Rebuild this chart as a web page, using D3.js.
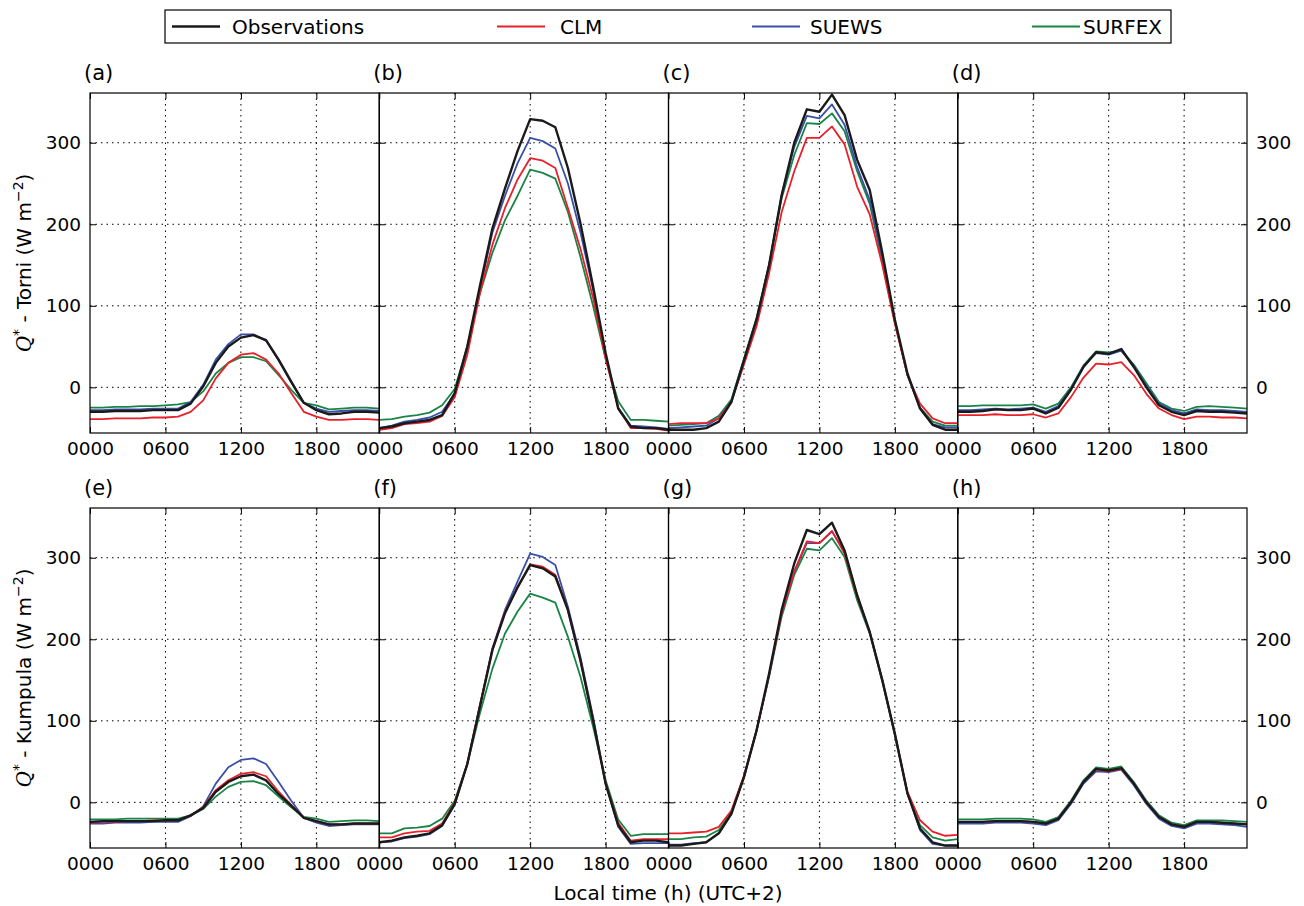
<!DOCTYPE html>
<html><head><meta charset="utf-8">
<script src="https://cdn.jsdelivr.net/npm/d3@7"></script>
<style>body{margin:0;background:#fff}text{font-family:"DejaVu Sans",sans-serif}</style>
</head><body><svg id="c" width="1304" height="906"></svg>
<script>
const hours = d3.range(24);
const seriesNames = ["Observations","CLM","SUEWS","SURFEX"];
const seriesColors = ["#1a1a1a","#e8202a","#3a4fa8","#1a8446"];
const panelLabels = ["(a)","(b)","(c)","(d)","(e)","(f)","(g)","(h)"];
const rowTitles = ["Torni","Kumpula"];
const xTicks = [0,6,12,18];
const xTickLabels = ["0000","0600","1200","1800"];
const yTicks = [0,100,200,300];

const pA_obs = [-30,-30,-29,-29,-29,-28,-28,-28,-20,1,30,50,61,64,58,34,7,-19,-28,-33,-32,-30,-30,-31];
const pA_clm = [-39,-39,-38,-38,-38,-37,-37,-36,-30,-16,11,30,40,42,34,17,-7,-30,-36,-40,-40,-39,-39,-40];
const pA_sue = [-28,-28,-27,-27,-27,-26,-26,-26,-18,3,34,53,65,65,57,33,6,-19,-26,-30,-29,-28,-28,-29];
const pA_srf = [-25,-25,-24,-24,-23,-23,-22,-21,-18,-5,17,30,37,37,32,15,-3,-19,-22,-27,-26,-25,-25,-26];
const pB_obs = [-50,-48,-44,-42,-40,-34,-7,50,124,195,244,290,329,327,319,269,201,124,42,-26,-48,-50,-50,-52];
const pB_clm = [-52,-50,-45,-44,-42,-35,-12,40,115,175,220,255,281,278,269,220,170,110,35,-25,-50,-50,-51,-53];
const pB_sue = [-50,-47,-42,-40,-37,-30,-8,48,120,190,235,275,306,302,293,250,190,120,38,-25,-47,-48,-49,-51];
const pB_srf = [-40,-39,-36,-34,-31,-22,-2,50,115,165,205,235,267,263,256,215,160,100,35,-17,-40,-40,-41,-42];
const pC_obs = [-52,-52,-52,-50,-42,-18,33,83,150,236,300,341,338,359,334,279,242,165,83,17,-26,-46,-52,-52];
const pC_clm = [-45,-44,-44,-44,-38,-18,28,75,140,215,265,306,306,320,298,246,212,150,78,15,-20,-38,-44,-44];
const pC_sue = [-50,-49,-48,-47,-38,-17,33,83,150,236,295,333,330,347,322,270,230,160,80,15,-25,-45,-49,-49];
const pC_srf = [-47,-46,-45,-44,-35,-15,35,85,150,232,285,324,323,336,314,265,225,155,80,15,-25,-42,-47,-47];
const pD_obs = [-30,-30,-29,-27,-28,-28,-26,-32,-25,-3,25,43,41,47,25,0,-22,-30,-34,-29,-30,-30,-31,-32];
const pD_clm = [-34,-34,-34,-33,-34,-34,-33,-37,-32,-12,12,29,28,31,15,-8,-26,-34,-39,-36,-36,-37,-37,-38];
const pD_sue = [-28,-28,-27,-26,-27,-26,-25,-30,-23,-2,26,42,40,45,26,2,-20,-28,-32,-27,-28,-28,-29,-30];
const pD_srf = [-23,-23,-22,-22,-22,-22,-21,-26,-20,0,27,44,43,45,28,5,-18,-26,-29,-24,-23,-24,-25,-26];
const pE_obs = [-24,-23,-23,-23,-23,-23,-22,-22,-16,-7,13,25,32,34,27,10,-4,-19,-23,-27,-27,-26,-26,-26];
const pE_clm = [-25,-24,-24,-23,-23,-22,-22,-22,-16,-6,15,27,35,37,32,13,-3,-19,-23,-27,-27,-26,-26,-26];
const pE_sue = [-26,-26,-25,-25,-25,-24,-24,-24,-17,-5,23,43,52,54,47,25,2,-19,-25,-29,-28,-27,-27,-27];
const pE_srf = [-21,-21,-21,-20,-20,-20,-20,-20,-16,-8,7,19,25,26,21,7,-6,-18,-20,-24,-23,-22,-22,-23];
const pF_obs = [-49,-47,-43,-41,-38,-28,-2,47,117,187,232,264,291,287,277,236,174,101,23,-28,-49,-47,-47,-49];
const pF_clm = [-43,-43,-38,-36,-35,-26,0,47,119,187,234,263,292,289,279,236,174,101,23,-25,-47,-45,-45,-45];
const pF_sue = [-49,-48,-44,-42,-39,-29,-3,47,119,189,236,271,305,301,291,240,178,105,23,-30,-51,-50,-50,-50];
const pF_srf = [-38,-38,-32,-31,-29,-20,2,47,109,164,207,234,256,251,245,203,154,93,27,-21,-41,-39,-39,-39];
const pG_obs = [-53,-53,-51,-49,-38,-14,31,88,158,236,293,334,329,343,309,254,209,150,84,11,-32,-49,-53,-53];
const pG_clm = [-38,-38,-37,-36,-30,-10,33,88,156,232,283,320,318,333,305,252,209,150,84,13,-22,-36,-41,-40];
const pG_sue = [-52,-52,-50,-49,-38,-14,31,88,156,232,283,318,318,332,307,254,209,150,84,11,-34,-51,-53,-53];
const pG_srf = [-45,-45,-43,-42,-34,-12,31,88,154,228,279,311,309,324,301,248,207,148,82,11,-28,-43,-47,-45];
const pH_obs = [-24,-24,-24,-23,-23,-23,-24,-26,-20,0,25,41,39,42,23,0,-18,-27,-30,-24,-24,-25,-26,-27];
const pH_clm = [-24,-24,-24,-23,-23,-23,-24,-26,-20,0,25,40,38,41,23,0,-18,-27,-30,-24,-24,-25,-26,-27];
const pH_sue = [-26,-26,-26,-25,-25,-25,-26,-28,-22,-2,23,38,37,40,21,-2,-20,-29,-32,-26,-26,-27,-28,-30];
const pH_srf = [-21,-21,-21,-20,-20,-20,-21,-24,-18,2,27,43,41,44,25,2,-16,-25,-28,-22,-22,-22,-23,-24];

const panels = [
 [pA_obs,pA_clm,pA_sue,pA_srf],[pB_obs,pB_clm,pB_sue,pB_srf],[pC_obs,pC_clm,pC_sue,pC_srf],[pD_obs,pD_clm,pD_sue,pD_srf],
 [pE_obs,pE_clm,pE_sue,pE_srf],[pF_obs,pF_clm,pF_sue,pF_srf],[pG_obs,pG_clm,pG_sue,pG_srf],[pH_obs,pH_clm,pH_sue,pH_srf]];

const svg = d3.select("#c");
const L=90, PW=289.25, rowTop=[93,508], PH=340;
const yDom=[-56,361];
const FS=18.5;

panels.forEach((p,i)=>{
  const col=i%4,row=Math.floor(i/4);
  const x0=L+col*PW, y0=rowTop[row];
  const x=d3.scaleLinear().domain([0,23]).range([x0,x0+PW]);
  const y=d3.scaleLinear().domain(yDom).range([y0+PH,y0]);
  const g=svg.append("g");
  xTicks.slice(1).forEach(t=>g.append("line").attr("x1",x(t)).attr("x2",x(t)).attr("y1",y0).attr("y2",y0+PH)
    .attr("stroke","#000").attr("stroke-width",1).attr("stroke-dasharray","1.5,4"));
  yTicks.forEach(t=>g.append("line").attr("x1",x0).attr("x2",x0+PW).attr("y1",y(t)).attr("y2",y(t))
    .attr("stroke","#000").attr("stroke-width",1).attr("stroke-dasharray","1.5,4"));
  const line=d3.line().x((d,j)=>x(hours[j])).y(d=>y(d));
  const clip="clip"+i;
  svg.append("clipPath").attr("id",clip).append("rect").attr("x",x0).attr("y",y0).attr("width",PW).attr("height",PH);
  [3,2,1,0].forEach(k=>{
    g.append("path").attr("d",line(p[k])).attr("fill","none").attr("stroke",seriesColors[k])
     .attr("stroke-width",k==0?2.4:1.8).attr("stroke-linejoin","round").attr("clip-path",`url(#${clip})`);
  });
  const xb=d3.axisBottom(x).tickValues(xTicks).tickSize(-6).tickFormat((d,j)=>xTickLabels[j]).tickPadding(9);
  const ax=g.append("g").attr("transform",`translate(0,${y0+PH})`).call(xb);
  ax.select(".domain").remove();
  ax.selectAll("text").attr("font-size",FS).attr("fill","#000");
  const at=d3.axisTop(x).tickValues(xTicks).tickSize(-6).tickFormat("");
  g.append("g").attr("transform",`translate(0,${y0})`).call(at).select(".domain").remove();
  const yl=d3.axisLeft(y).tickValues(yTicks).tickSize(-6).tickFormat(col==0?d3.format("d"):"").tickPadding(9);
  const ayl=g.append("g").attr("transform",`translate(${x0},0)`).call(yl);
  ayl.select(".domain").remove(); ayl.selectAll("text").attr("font-size",FS).attr("fill","#000");
  const yr=d3.axisRight(y).tickValues(yTicks).tickSize(-6).tickFormat(col==3?d3.format("d"):"").tickPadding(9);
  const ayr=g.append("g").attr("transform",`translate(${x0+PW},0)`).call(yr);
  ayr.select(".domain").remove(); ayr.selectAll("text").attr("font-size",FS).attr("fill","#000");
  g.selectAll(".tick line").attr("stroke","#000");
  g.append("rect").attr("x",x0).attr("y",y0).attr("width",PW).attr("height",PH).attr("fill","none").attr("stroke","#000").attr("stroke-width",1.2);
  g.append("text").attr("x",x0-6).attr("y",y0-13).attr("font-size",21).text(panelLabels[i]);
});

rowTitles.forEach((t,r)=>{
  const cy=rowTop[r]+PH/2;
  const tx=svg.append("text").attr("transform",`translate(31,${cy}) rotate(-90)`).attr("text-anchor","middle").attr("font-size",20);
  tx.append("tspan").attr("font-style","italic").attr("font-family","DejaVu Serif").text("Q");
  tx.append("tspan").attr("dy",-8).attr("font-size",14).text("*");
  tx.append("tspan").attr("dy",8).text(` - ${t} (W m`);
  tx.append("tspan").attr("dy",-8).attr("font-size",14).text("−2");
  tx.append("tspan").attr("dy",8).text(")");
});
svg.append("text").attr("x",668).attr("y",900).attr("text-anchor","middle").attr("font-size",20).text("Local time (h) (UTC+2)");

svg.append("rect").attr("x",165).attr("y",10).attr("width",1006).attr("height",33).attr("fill","#fff").attr("stroke","#000").attr("stroke-width",1.2);
const legX=[172,497,752,1032], legTx=[232,560,810,1083];
seriesNames.forEach((n,k)=>{
  svg.append("line").attr("x1",legX[k]).attr("x2",legX[k]+48).attr("y1",26.5).attr("y2",26.5).attr("stroke",seriesColors[k]).attr("stroke-width",k==0?2.4:1.8);
  svg.append("text").attr("x",legTx[k]).attr("y",34).attr("font-size",20).text(n);
});
</script></body></html>
